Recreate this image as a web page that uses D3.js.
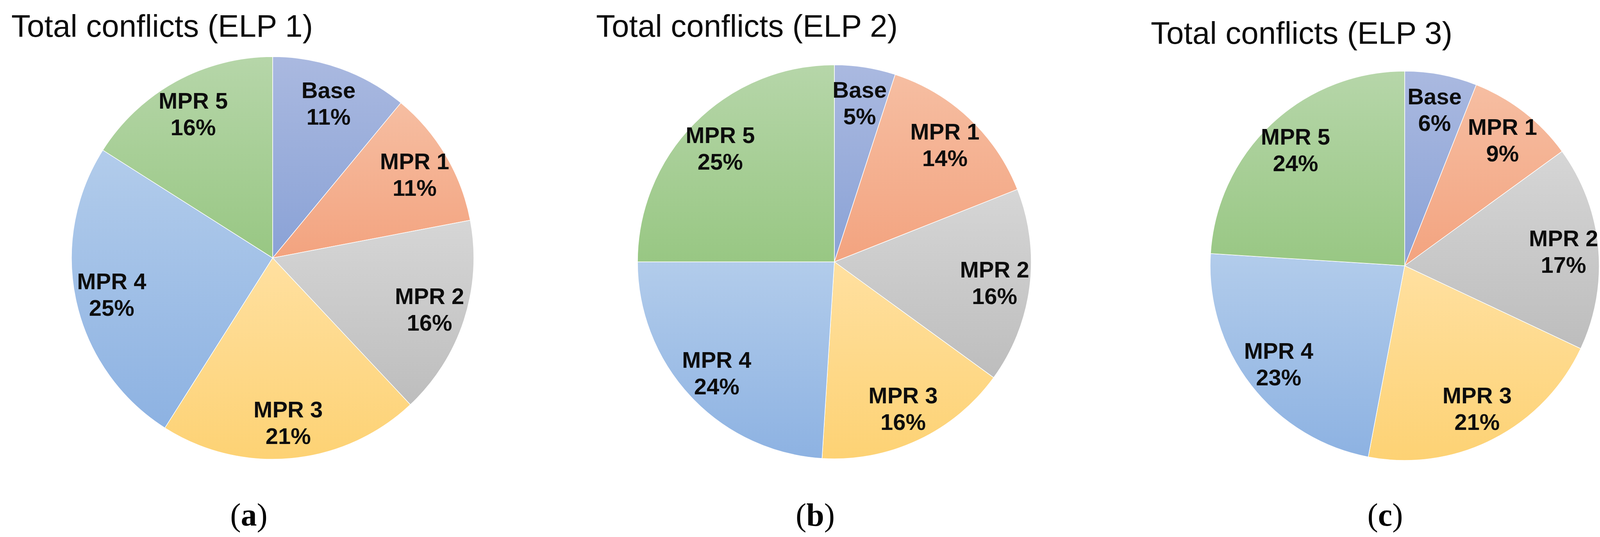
<!DOCTYPE html>
<html>
<head>
<meta charset="utf-8">
<script src="https://cdn.jsdelivr.net/npm/d3@7"></script>
<style>
  body { margin: 0; background: #fff; }
  svg { display: block; }
</style>
</head>
<body>
<svg id="chart" width="4120" height="1374"></svg>
<script>
// slice categories, same order in all three pies (clockwise from 12 o'clock)
var categories = ["Base", "MPR 1", "MPR 2", "MPR 3", "MPR 4", "MPR 5"];
var elp1 = [11, 11, 16, 21, 25, 16];
var elp2 = [5, 14, 16, 16, 24, 25];
var elp3 = [6, 9, 17, 21, 23, 24];
var titles = ["Total conflicts (ELP 1)", "Total conflicts (ELP 2)", "Total conflicts (ELP 3)"];
var captions = ["a", "b", "c"];

// colour stops per category: top / bottom of the gradient
var topColors = ["#aab9e0", "#f6bea2", "#d6d6d6", "#ffe0a0", "#b2cceb", "#b6d6a9"];
var botColors = ["#8aa2d6", "#f3a37f", "#bdbdbd", "#fdd274", "#8db2e2", "#98c783"];

var panels = [
  {values: elp1, cx: 698, cy: 660, r: 515, tx: 29, ty: 94, capX: 637},
  {values: elp2, cx: 2136, cy: 670, r: 504, tx: 1526, ty: 94, capX: 2087},
  {values: elp3, cx: 3596, cy: 680, r: 498, tx: 2946, ty: 112, capX: 3546}
];

var svg = d3.select("#chart");
var defs = svg.append("defs");

categories.forEach(function(c, i) {
	var g = defs.append("linearGradient")
		.attr("id", "grad" + i)
		.attr("x1", 0).attr("y1", 0).attr("x2", 0).attr("y2", 1);
	g.append("stop").attr("offset", "0%").attr("stop-color", topColors[i]);
	g.append("stop").attr("offset", "100%").attr("stop-color", botColors[i]);
});

var pie = d3.pie().sort(null).value(function(d) { return d; });

panels.forEach(function(p, k) {
	var arc = d3.arc().innerRadius(0).outerRadius(p.r);
	var labelArc = d3.arc().innerRadius(p.r * 0.64).outerRadius(p.r);

	svg.append("text")
		.attr("x", p.tx).attr("y", p.ty)
		.attr("font-family", "Liberation Sans, Arial, sans-serif")
		.attr("font-size", 80)
		.attr("fill", "#0d0d0d")
		.text(titles[k]);

	var g = svg.append("g").attr("transform", "translate(" + p.cx + "," + p.cy + ")");
	var arcs = pie(p.values);

	g.selectAll("path").data(arcs).enter().append("path")
		.attr("d", arc)
		.attr("fill", function(d, i) { return "url(#grad" + i + ")"; })
		.attr("stroke", "#ffffff")
		.attr("stroke-width", 1.5);

	var lab = g.selectAll("text.lab").data(arcs).enter().append("text")
		.attr("class", "lab")
		.attr("transform", function(d) { return "translate(" + labelArc.centroid(d) + ")"; })
		.attr("text-anchor", "middle")
		.attr("font-family", "Liberation Sans, Arial, sans-serif")
		.attr("font-weight", "bold")
		.attr("font-size", 58)
		.attr("fill", "#0d0d0d");
	lab.append("tspan").attr("x", 0).attr("y", -12).text(function(d, i) { return categories[i]; });
	lab.append("tspan").attr("x", 0).attr("y", 56).text(function(d) { return d.data + "%"; });

	var cap = svg.append("text")
		.attr("x", p.capX).attr("y", 1345)
		.attr("text-anchor", "middle")
		.attr("font-family", "Liberation Serif, serif")
		.attr("font-size", 82)
		.attr("fill", "#000");
	cap.append("tspan").text("(");
	cap.append("tspan").attr("font-weight", "bold").text(captions[k]);
	cap.append("tspan").text(")");
});
</script>
</body>
</html>
